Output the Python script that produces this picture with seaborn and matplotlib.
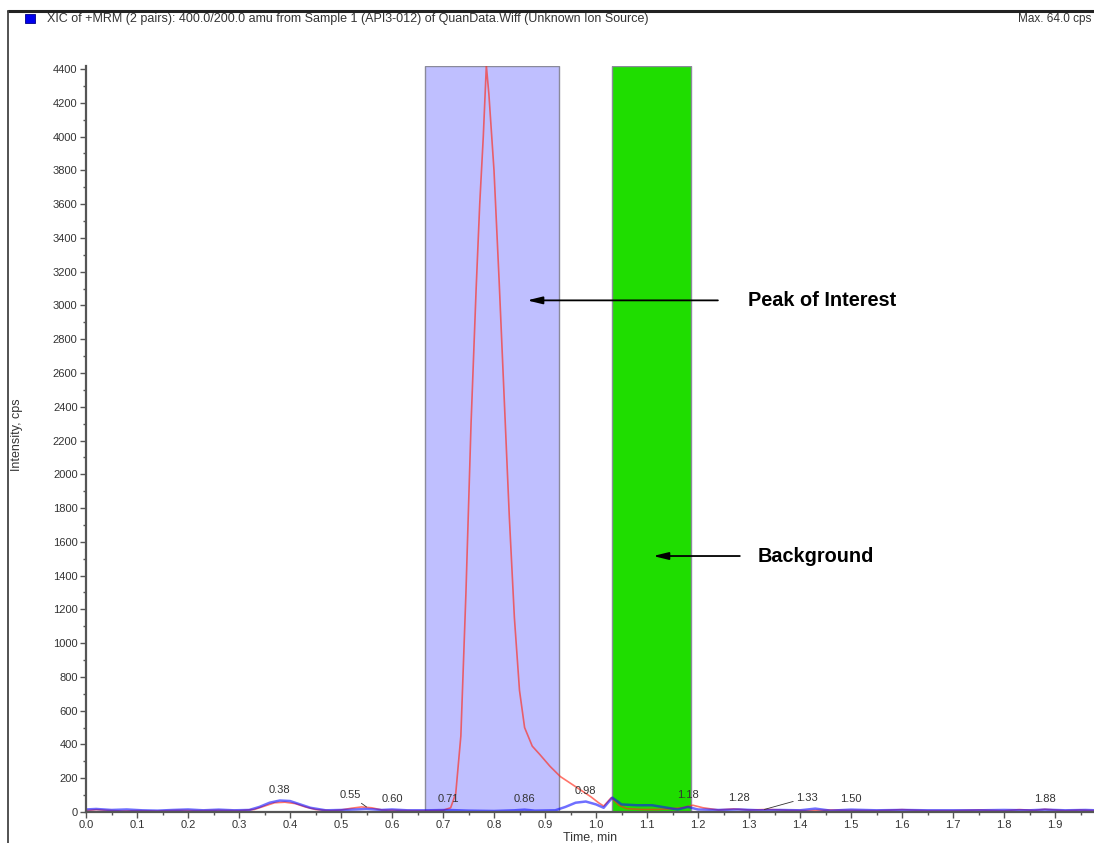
import matplotlib
matplotlib.use("Agg")
import matplotlib.pyplot as plt
from matplotlib.patches import Rectangle
from matplotlib.lines import Line2D
from matplotlib.ticker import MultipleLocator, FormatStrFormatter
import seaborn as sns
import pandas as pd

# ---------------- data ----------------
red_time = [0.00, 0.02, 0.04, 0.07, 0.10, 0.14, 0.18, 0.22, 0.26, 0.30, 0.33, 0.35, 0.37, 0.39,
            0.41, 0.43, 0.45, 0.48, 0.50, 0.52, 0.54, 0.56, 0.58, 0.61, 0.64, 0.67, 0.70, 0.715,
            0.725, 0.735, 0.745, 0.755, 0.765, 0.772, 0.779, 0.785, 0.79, 0.80, 0.81, 0.82, 0.83,
            0.84, 0.85, 0.86, 0.875, 0.89, 0.91, 0.93, 0.95, 0.97, 0.99, 1.005, 1.015, 1.03, 1.045,
            1.06, 1.09, 1.12, 1.15, 1.17, 1.19, 1.21, 1.24, 1.27, 1.30, 1.34, 1.38, 1.42, 1.46,
            1.50, 1.55, 1.60, 1.65, 1.70, 1.75, 1.80, 1.83, 1.86, 1.88, 1.92, 1.95, 1.98]
red_int = [8, 14, 10, 6, 8, 6, 10, 8, 10, 8, 15, 35, 55, 58,
           50, 30, 15, 8, 12, 22, 30, 25, 12, 10, 8, 8, 10, 25,
           110, 450, 1300, 2300, 3100, 3600, 4000, 4420, 4250, 3800, 3150, 2450, 1750,
           1150, 720, 500, 390, 340, 270, 210, 170, 130, 90, 55, 35, 85, 40,
           20, 15, 15, 20, 25, 40, 25, 12, 18, 12, 15, 10, 8, 12,
           10, 8, 14, 8, 8, 12, 8, 14, 10, 16, 8, 12, 8]

blue_time = [0.00, 0.02, 0.05, 0.08, 0.11, 0.14, 0.17, 0.20, 0.23, 0.26, 0.29, 0.32, 0.34, 0.36,
             0.38, 0.40, 0.42, 0.44, 0.47, 0.50, 0.53, 0.55, 0.58, 0.60, 0.63, 0.67, 0.71, 0.75,
             0.80, 0.84, 0.86, 0.88, 0.92, 0.94, 0.96, 0.98, 1.00, 1.015, 1.032, 1.05, 1.08, 1.11,
             1.14, 1.16, 1.18, 1.20, 1.24, 1.28, 1.32, 1.36, 1.40, 1.43, 1.46, 1.50, 1.55, 1.60,
             1.65, 1.70, 1.75, 1.80, 1.85, 1.88, 1.92, 1.96, 1.98]
blue_int = [15, 18, 12, 15, 10, 8, 12, 15, 10, 14, 10, 12, 30, 55,
            68, 65, 45, 25, 10, 12, 15, 18, 12, 15, 10, 10, 12, 8,
            6, 10, 14, 8, 10, 30, 55, 62, 45, 25, 85, 45, 40, 40,
            25, 15, 30, 15, 12, 15, 10, 12, 10, 20, 8, 14, 10, 12,
            10, 10, 10, 12, 10, 14, 10, 12, 10]

peak_labels = ["0.38", "0.55", "0.60", "0.71", "0.86", "0.98", "1.18", "1.28", "1.33", "1.50", "1.88"]
peak_times = [0.38, 0.55, 0.60, 0.71, 0.86, 0.98, 1.18, 1.28, 1.33, 1.50, 1.88]
peak_heights = [68, 30, 15, 12, 14, 62, 40, 18, 15, 14, 16]

region_names = ["Peak of Interest", "Background"]
region_start = [0.665, 1.031]
region_end = [0.927, 1.186]
region_colors = ["#bfbfff", "#1fdd00"]
arrow_tip_x = [0.865, 1.112]
arrow_tail_x = [1.239, 1.282]
arrow_text_x = [1.298, 1.316]
arrow_y = [3030, 1516]

title_text = "XIC of +MRM (2 pairs): 400.0/200.0 amu from Sample 1 (API3-012) of QuanData.Wiff (Unknown Ion Source)"
max_text = "Max. 64.0 cps"

# ---------------- style ----------------
sns.set_style("white")
plt.rcParams["font.family"] = ["Liberation Sans", "DejaVu Sans"]

W, H = 1094, 843
fig = plt.figure(figsize=(W / 100, H / 100), dpi=100)
ax = fig.add_axes([86 / W, 1 - 812 / H, 1 - 86 / W, (812 - 66) / H])

for s, e, c in zip(region_start, region_end, region_colors):
    ax.axvspan(s, e, facecolor=c, edgecolor="#8a8a9a", lw=1.0, zorder=1)

red_df = pd.DataFrame({"Time, min": red_time, "Intensity, cps": red_int})
blue_df = pd.DataFrame({"Time, min": blue_time, "Intensity, cps": blue_int})
sns.lineplot(data=red_df, x="Time, min", y="Intensity, cps", ax=ax, color="#ff2a1a",
             alpha=0.65, lw=1.2, zorder=3, estimator=None, sort=False)
sns.lineplot(data=blue_df, x="Time, min", y="Intensity, cps", ax=ax, color="#1010ff",
             alpha=0.6, lw=1.8, zorder=4, estimator=None, sort=False)

ax.set_xlim(0, (W - 86) / 510)
ax.set_ylim(0, 4418)

ax.xaxis.set_major_locator(MultipleLocator(0.1))
ax.xaxis.set_minor_locator(MultipleLocator(0.05))
ax.xaxis.set_major_formatter(FormatStrFormatter("%.1f"))
ax.yaxis.set_major_locator(MultipleLocator(200))
ax.yaxis.set_minor_locator(MultipleLocator(100))
ax.yaxis.set_major_formatter(FormatStrFormatter("%d"))
ax.tick_params(axis="both", which="major", direction="out", length=4, width=1,
               color="#555555", labelsize=8, labelcolor="#333333", pad=2)
ax.tick_params(axis="both", which="minor", direction="out", length=2.5, width=1, color="#555555")
ax.tick_params(axis="x", which="both", bottom=True)
ax.tick_params(axis="y", which="both", left=True)

for side in ["top", "right"]:
    ax.spines[side].set_visible(False)
for side in ["left", "bottom"]:
    ax.spines[side].set_color("#555555")
    ax.spines[side].set_linewidth(1.6)
    ax.spines[side].set_zorder(5)

ax.set_xlabel("")
ax.set_ylabel("")
fig.text(17 / W, 1 - 435 / H, "Intensity, cps", rotation=90, ha="center", va="center",
         fontsize=9, color="#333333")
fig.text(590 / W, 1 - 832 / H, "Time, min", ha="center", va="top", fontsize=9, color="#333333")

# peak labels
for lab, t, h in zip(peak_labels, peak_times, peak_heights):
    if lab == "0.55":
        ax.annotate(lab, xy=(t, h), xytext=(-12, 5), textcoords="offset points",
                    ha="center", va="bottom", fontsize=8, color="#333333", zorder=6,
                    arrowprops=dict(arrowstyle="-", color="#333333", lw=0.6,
                                    shrinkA=0, shrinkB=0))
    elif lab == "1.33":
        ax.annotate(lab, xy=(t, h), xytext=(31, 5), textcoords="offset points",
                    ha="center", va="bottom", fontsize=8, color="#333333", zorder=6,
                    arrowprops=dict(arrowstyle="-", color="#333333", lw=0.6,
                                    shrinkA=0, shrinkB=0))
    else:
        ax.annotate(lab, xy=(t, h), xytext=(0, 4), textcoords="offset points",
                    ha="center", va="bottom", fontsize=8, color="#333333", zorder=6)

# arrows and region names
for name, tip, tail, tx, y in zip(region_names, arrow_tip_x, arrow_tail_x, arrow_text_x, arrow_y):
    ax.annotate("", xy=(tip, y), xytext=(tail, y),
                arrowprops=dict(arrowstyle="-|>,head_length=0.9,head_width=0.22",
                                color="black", lw=1.3, shrinkA=0, shrinkB=0), zorder=7)
    ax.text(tx, y, name, ha="left", va="center", fontsize=14.3, fontweight="bold",
            color="black", zorder=7)

# frame and header
fig.add_artist(Line2D([8 / W, 1], [1 - 11 / H, 1 - 11 / H], color="#222222", lw=2.2))
fig.add_artist(Line2D([8 / W, 8 / W], [1 - 11 / H, 0], color="#444444", lw=1.3))
fig.add_artist(Rectangle((25 / W, 1 - 23 / H), 10 / W, 9 / H, facecolor="#0000ee",
                         edgecolor="#000088", lw=0.6))
fig.text(47 / W, 1 - 19 / H, title_text, ha="left", va="center", fontsize=9, color="#333333")
fig.text(1091 / W, 1 - 19 / H, max_text, ha="right", va="center", fontsize=8.5, color="#333333")

fig.savefig("out.png", dpi=100)
